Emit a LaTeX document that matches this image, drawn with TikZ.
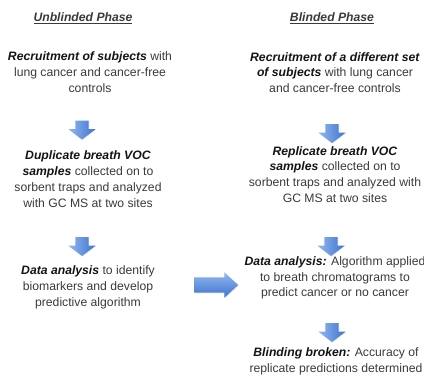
\documentclass[tikz,border=0pt]{standalone}
\usepackage{fontspec}
\setmainfont{Liberation Sans}
\usepackage{xcolor}
\usetikzlibrary{shapes.arrows,shadows}

\definecolor{bodygray}{HTML}{3A3A3A}
\definecolor{arrowtop}{HTML}{93B8F0}
\definecolor{arrowbot}{HTML}{3D72CE}
\newcommand{\kw}[1]{\textcolor{black!92}{\textbf{\textit{#1}}}}

\tikzset{
  steptext/.style={align=center,text=bodygray,inner sep=0pt,
    font=\fontsize{12.2}{15.8}\selectfont},
  phasetitle/.style={text=bodygray,inner sep=0pt,
    font=\fontsize{12.2}{15.8}\selectfont\bfseries\itshape},
  downarrow/.style={single arrow,rotate=-90,draw=none,
    minimum height=19pt,inner xsep=0pt,inner ysep=6.5pt,
    single arrow head extend=7pt,single arrow tip angle=105,
    left color=arrowtop,right color=arrowbot,
    drop shadow={opacity=0.18,shadow xshift=0.6pt,shadow yshift=-0.6pt}},
  bigarrow/.style={single arrow,draw=none,
    minimum height=44pt,inner xsep=0pt,inner ysep=7.5pt,
    single arrow head extend=5pt,single arrow tip angle=85,
    top color=arrowtop,bottom color=arrowbot,
    drop shadow={opacity=0.18,shadow xshift=0.6pt,shadow yshift=-0.8pt}}
}

\begin{document}
\begin{tikzpicture}[x=1pt,y=1pt]
\useasboundingbox (0,0) rectangle (424,-385);

% unblinded phase
\node[phasetitle] (ubtitle) at (83,-18) {\underline{Unblinded Phase}};
\node[steptext] (ubrecruit) at (90,-72)
  {\kw{Recruitment of subjects} with\\lung cancer and cancer-free\\controls};
\node[downarrow] (uba1) at (82,-127.5) {};
\node[steptext] (ubsamples) at (88,-179)
  {\kw{Duplicate breath VOC}\\\kw{samples} collected on to\\sorbent traps and analyzed\\with GC MS at two sites};
\node[downarrow] (uba2) at (82,-244) {};
\node[steptext] (ubdata) at (88,-287.5)
  {\kw{Data analysis} to identify\\biomarkers and develop\\predictive algorithm};

% blinded phase
\node[phasetitle] (bltitle) at (332,-18) {\underline{Blinded Phase}};
\node[steptext] (blrecruit) at (335,-72.5)
  {\kw{Recruitment of a different set}\\\kw{of subjects} with lung cancer\\and cancer-free controls};
\node[downarrow] (bla1) at (332,-131) {};
\node[steptext] (blsamples) at (335,-174.5)
  {\kw{Replicate breath VOC}\\\kw{samples} collected on to\\sorbent traps and analyzed with\\GC MS at two sites};
\node[downarrow] (bla2) at (331,-244) {};
\node[steptext] (bldata) at (335,-278)
  {\kw{Data analysis:} Algorithm applied\\to breath chromatograms to\\predict cancer or no cancer};
\node[downarrow] (bla3) at (332,-330) {};
\node[steptext] (blbroken) at (336,-361)
  {\kw{Blinding broken:} Accuracy of\\replicate predictions determined};

% unblinded -> blinded
\node[bigarrow] (handover) at (212,-285) {};
\end{tikzpicture}
\end{document}
